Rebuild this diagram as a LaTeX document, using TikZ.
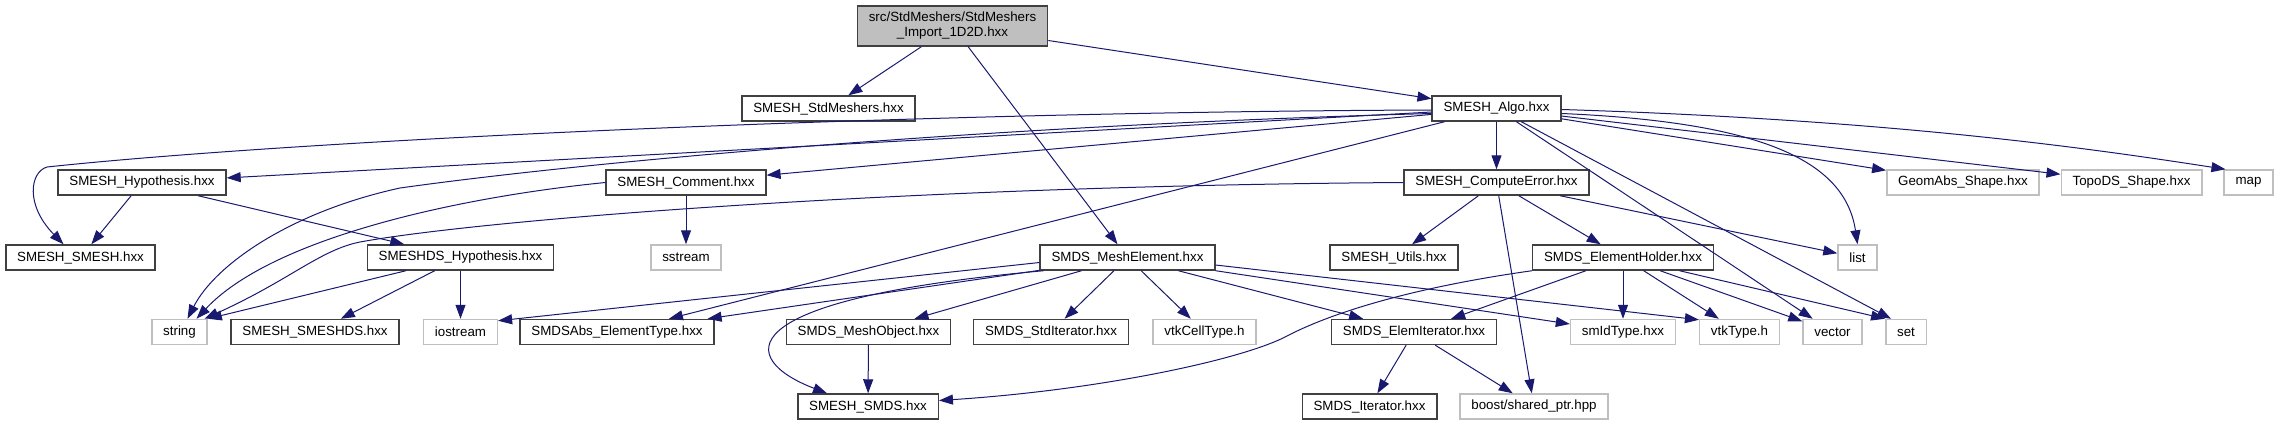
\documentclass[tikz,border=0pt]{standalone}
\usepackage{fontspec}
\setmainfont{Liberation Sans}
\usetikzlibrary{arrows.meta,calc}
\definecolor{edgeblue}{HTML}{191970}
\definecolor{boxgray}{HTML}{BFBFBF}

\begin{document}
\begin{tikzpicture}[x=0.75pt,y=-0.75pt,
  font=\fontsize{10}{11.25}\selectfont,
  hdr/.style={draw=black!75, line width=1.1pt, minimum height=18.75pt, inner xsep=8.5pt, inner ysep=0pt},
  ext/.style={hdr, draw=boxgray},
  edge/.style={draw=edgeblue, line width=0.75pt, -{Triangle[length=10.5pt,width=7.5pt]}}]
\useasboundingbox (0,0) rectangle (2277,425);

% --- Header file ---
\node[hdr, fill=boxgray, align=center, minimum height=30pt] (top) at (952.5,26) {src/StdMeshers/StdMeshers\\\_Import\_1D2D.hxx};

% --- Row 1 ---
\node[hdr] (stdm) at (828.5,108.5) {SMESH\_StdMeshers.hxx};
\node[hdr] (algo) at (1496.5,108.5) {SMESH\_Algo.hxx};

% --- Row 2 ---
\node[hdr] (hyp)  at (142,182.5)    {SMESH\_Hypothesis.hxx};
\node[hdr] (comm) at (686,182.5)    {SMESH\_Comment.hxx};
\node[hdr] (cerr) at (1496.5,182.5) {SMESH\_ComputeError.hxx};
\node[ext] (geom) at (1963,182.5)   {GeomAbs\_Shape.hxx};
\node[ext] (topo) at (2131.5,182.5) {TopoDS\_Shape.hxx};
\node[ext] (map)  at (2248.5,182.5) {map};

% --- Row 3 ---
\node[hdr] (smesh)   at (80.5,257.5)   {SMESH\_SMESH.hxx};
\node[hdr] (dshyp)   at (460.5,257.5)  {SMESHDS\_Hypothesis.hxx};
\node[ext] (sstream) at (686,257.5)    {sstream};
\node[hdr] (melem)   at (1127.5,257.5) {SMDS\_MeshElement.hxx};
\node[hdr] (utils)   at (1394,257.5)   {SMESH\_Utils.hxx};
\node[hdr] (holder)  at (1623,257.5)   {SMDS\_ElementHolder.hxx};
\node[ext] (list)    at (1857.5,257.5) {list};

% --- Row 4 ---
\node[ext] (string)   at (179.5,332)  {string};
\node[hdr] (smeshds)  at (315,332)    {SMESH\_SMESHDS.hxx};
\node[ext] (iostream) at (460.5,332)  {iostream};
\node[hdr] (abs)      at (617,332)    {SMDSAbs\_ElementType.hxx};
\node[hdr] (mobj)     at (868.5,332)  {SMDS\_MeshObject.hxx};
\node[hdr] (stdit)    at (1051,332)   {SMDS\_StdIterator.hxx};
\node[ext] (vtkcell)  at (1204.5,332) {vtkCellType.h};
\node[hdr] (elemit)   at (1414,332)   {SMDS\_ElemIterator.hxx};
\node[ext] (smid)     at (1623,332)   {smIdType.hxx};
\node[ext] (vtktype)  at (1739.5,332) {vtkType.h};
\node[ext] (vector)   at (1832.5,332) {vector};
\node[ext] (set)      at (1906,332)   {set};

% --- Row 5 ---
\node[hdr] (smds)  at (868,406.5)    {SMESH\_SMDS.hxx};
\node[hdr] (iter)  at (1369.5,406.5) {SMDS\_Iterator.hxx};
\node[ext] (boost) at (1534,406.5)   {boost/shared\_ptr.hpp};

% --- Includes of the header ---
\draw[edge] (top) -- (stdm);
\draw[edge] (top) -- (algo);
\draw[edge] (top) -- (melem);

% --- SMESH_Algo ---
\draw[edge] ($(algo.west)+(0,1.5)$) .. controls (900,112) and (300,140) .. (47,167)
  .. controls (30,172) and (25,205) .. ($(smesh.north)+(-17,0)$);
\draw[edge] (algo) -- (hyp);
\draw[edge] ($(algo.west)+(0,5)$) .. controls (1000,125) and (600,160) .. (400,188)
  .. controls (290,212) and (215,265) .. ($(string.north)+(8,0)$);
\draw[edge] (algo) -- (comm);
\draw[edge] (algo) -- (abs);
\draw[edge] (algo) -- (cerr);
\draw[edge] ($(algo.east)+(0,5)$) .. controls (1760,122) and (1845,160) .. (list.north);
\draw[edge] (algo) -- (vector);
\draw[edge] (algo) -- ($(set.north west)+(6,0)$);
\draw[edge] (algo) -- (geom);
\draw[edge] (algo) -- (topo);
\draw[edge] ($(algo.east)+(0,1)$) .. controls (1900,120) and (2100,150) .. ($(map.north west)+(2,0)$);

% --- SMESH_Hypothesis, SMESH_Comment ---
\draw[edge] (hyp) -- (smesh);
\draw[edge] (hyp) -- (dshyp);
\draw[edge] (comm.west) .. controls (450,198) and (270,240) .. ($(string.north)+(17,0)$);
\draw[edge] (comm) -- (sstream);

% --- SMESH_ComputeError ---
\draw[edge] (cerr.west) .. controls (900,186) and (480,220) .. (360,242)
  .. controls (320,250) and (290,280) .. ($(string.north)+(25,0)$);
\draw[edge] (cerr) -- (utils);
\draw[edge] (cerr) -- (holder);
\draw[edge] (cerr) -- (list);
\draw[edge] (cerr) -- (boost);

% --- SMESHDS_Hypothesis ---
\draw[edge] (dshyp) -- (string.north east);
\draw[edge] (dshyp) -- (smeshds);
\draw[edge] (dshyp) -- (iostream);

% --- SMDS_MeshElement ---
\draw[edge] ($(melem.west)+(0,5)$) -- ($(iostream.north east)+(0,2)$);
\draw[edge] (melem) -- (abs);
\draw[edge] ($(melem.south west)+(4,0)$) .. controls (720,300) and (740,360) .. ($(smds.north)+(-41,0)$);
\draw[edge] (melem) -- (mobj);
\draw[edge] (melem) -- (stdit);
\draw[edge] (melem) -- (vtkcell);
\draw[edge] (melem) -- (elemit);
\draw[edge] (melem) -- (smid);
\draw[edge] ($(melem.east)+(0,7.5)$) -- ($(vtktype.north west)+(0,1)$);
\draw[edge] (mobj) -- (smds);

% --- SMDS_ElementHolder ---
\draw[edge] (holder.south west) .. controls (1430,285) and (1340,308) .. (1285,337)
  .. controls (1240,360) and (1100,390) .. ($(smds.east)+(0,-6)$);
\draw[edge] (holder) -- (elemit);
\draw[edge] (holder) -- (smid);
\draw[edge] (holder) -- (vtktype);
\draw[edge] (holder) -- (vector);
\draw[edge] (holder) -- (set.north west);

% --- SMDS_ElemIterator ---
\draw[edge] (elemit) -- (iter);
\draw[edge] (elemit) -- (boost);
\end{tikzpicture}
\end{document}
